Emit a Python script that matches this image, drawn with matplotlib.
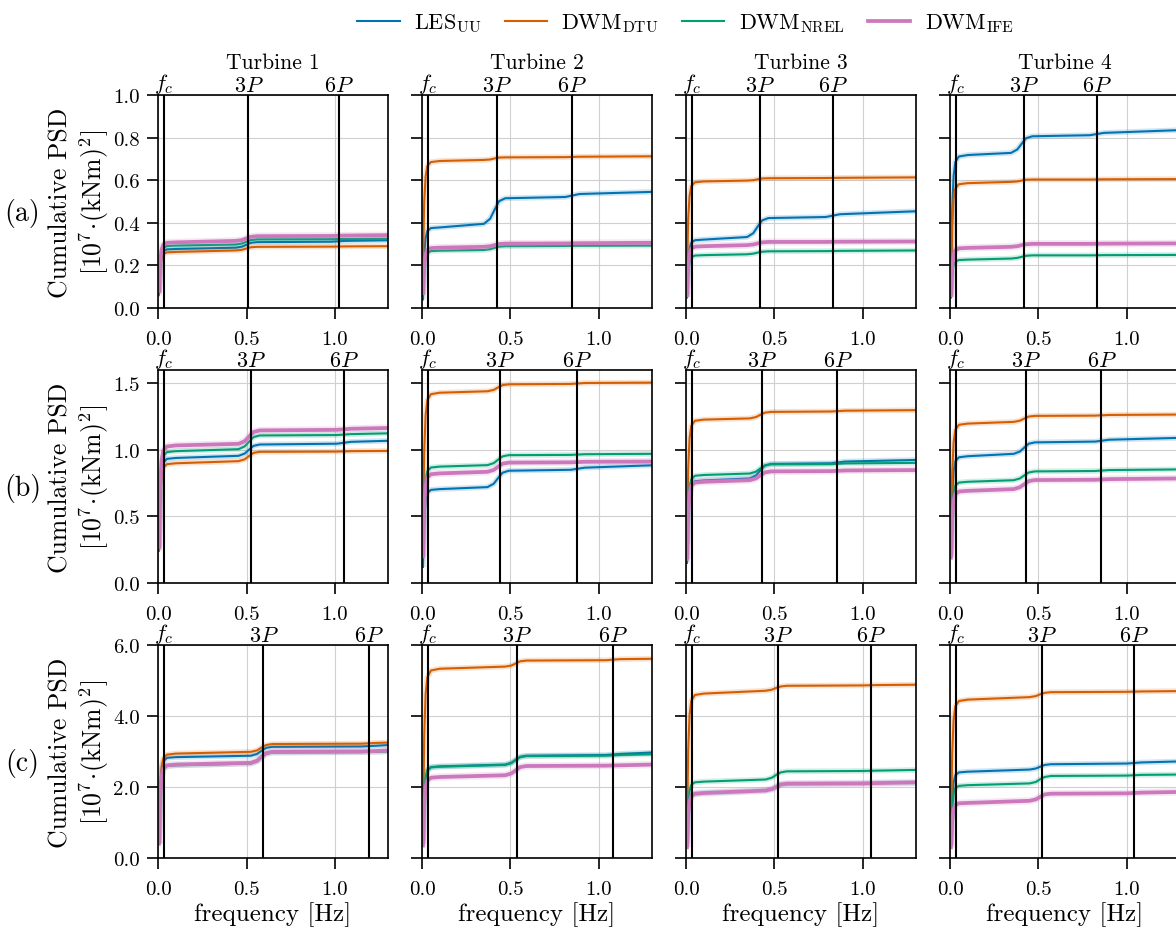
import numpy as np
import matplotlib.pyplot as plt
from matplotlib.ticker import FormatStrFormatter
from matplotlib.lines import Line2D

plt.rcParams['font.family'] = 'serif'
plt.rcParams['font.serif'] = ['cmr10']
plt.rcParams['mathtext.fontset'] = 'cm'
plt.rcParams['axes.formatter.use_mathtext'] = True

turbines = ['Turbine 1', 'Turbine 2', 'Turbine 3', 'Turbine 4']
row_tags = ['(a)', '(b)', '(c)']
names = [r'LES$_{\mathrm{UU}}$', r'DWM$_{\mathrm{DTU}}$', r'DWM$_{\mathrm{NREL}}$', r'DWM$_{\mathrm{IFE}}$']
colors = ['#0173b2', '#d55e00', '#029e73', '#cc78bc']
widths = [1.5, 1.5, 1.5, 2.7]

# marker frequencies [Hz]
fc = 0.035
p3_a = [0.511, 0.424, 0.416, 0.416]
p6_a = [1.022, 0.848, 0.832, 0.832]
p3_b = [0.526, 0.439, 0.428, 0.428]
p6_b = [1.052, 0.878, 0.856, 0.856]
p3_c = [0.596, 0.539, 0.522, 0.519]
p6_c = [1.192, 1.078, 1.044, 1.038]

# ---- row (a) ----
freq_a = [
    [0.005, 0.012, 0.02, 0.03, 0.05, 0.10, 0.44, 0.475, 0.50, 0.525, 0.56, 0.98, 1.06, 1.30],
    [0.005, 0.012, 0.02, 0.03, 0.05, 0.10, 0.35, 0.385, 0.41, 0.435, 0.47, 0.81, 0.89, 1.30],
    [0.005, 0.012, 0.02, 0.03, 0.05, 0.10, 0.345, 0.38, 0.405, 0.43, 0.465, 0.79, 0.87, 1.30],
    [0.005, 0.012, 0.02, 0.03, 0.05, 0.10, 0.345, 0.38, 0.405, 0.43, 0.465, 0.79, 0.87, 1.30],
]
les_a = [
    [0.07, 0.194, 0.246, 0.267, 0.275, 0.277, 0.283, 0.288, 0.297, 0.306, 0.309, 0.311, 0.315, 0.318],
    [0.04, 0.243, 0.327, 0.361, 0.375, 0.378, 0.395, 0.419, 0.461, 0.501, 0.515, 0.521, 0.535, 0.545],
    [0.05, 0.213, 0.280, 0.307, 0.318, 0.321, 0.333, 0.351, 0.382, 0.411, 0.422, 0.427, 0.440, 0.454],
    [0.05, 0.451, 0.618, 0.685, 0.711, 0.718, 0.728, 0.744, 0.771, 0.797, 0.806, 0.811, 0.822, 0.835],
]
dtu_a = [
    [0.06, 0.182, 0.233, 0.253, 0.261, 0.263, 0.270, 0.273, 0.279, 0.285, 0.287, 0.288, 0.289, 0.290],
    [0.20, 0.494, 0.617, 0.666, 0.685, 0.690, 0.695, 0.697, 0.702, 0.706, 0.707, 0.708, 0.710, 0.712],
    [0.15, 0.416, 0.527, 0.572, 0.590, 0.594, 0.598, 0.600, 0.604, 0.608, 0.609, 0.610, 0.611, 0.613],
    [0.08, 0.384, 0.510, 0.561, 0.581, 0.586, 0.592, 0.594, 0.598, 0.602, 0.603, 0.603, 0.604, 0.605],
]
nrel_a = [
    [0.07, 0.204, 0.260, 0.282, 0.291, 0.293, 0.298, 0.303, 0.311, 0.319, 0.322, 0.323, 0.324, 0.325],
    [0.06, 0.185, 0.238, 0.259, 0.267, 0.269, 0.272, 0.276, 0.282, 0.288, 0.290, 0.291, 0.292, 0.293],
    [0.05, 0.169, 0.218, 0.238, 0.246, 0.248, 0.252, 0.255, 0.260, 0.264, 0.266, 0.267, 0.268, 0.270],
    [0.05, 0.156, 0.200, 0.218, 0.225, 0.227, 0.232, 0.235, 0.240, 0.245, 0.247, 0.247, 0.248, 0.249],
]
ife_a = [
    [0.08, 0.217, 0.274, 0.297, 0.306, 0.308, 0.315, 0.319, 0.327, 0.334, 0.337, 0.338, 0.340, 0.342],
    [0.07, 0.198, 0.251, 0.272, 0.281, 0.283, 0.287, 0.290, 0.295, 0.300, 0.302, 0.303, 0.304, 0.306],
    [0.06, 0.198, 0.256, 0.279, 0.288, 0.290, 0.295, 0.298, 0.303, 0.308, 0.310, 0.310, 0.311, 0.312],
    [0.06, 0.193, 0.249, 0.271, 0.280, 0.282, 0.287, 0.290, 0.295, 0.299, 0.301, 0.301, 0.302, 0.303],
]

# ---- row (b) ----
freq_b = [
    [0.005, 0.012, 0.02, 0.03, 0.05, 0.10, 0.455, 0.49, 0.515, 0.54, 0.575, 1.01, 1.09, 1.30],
    [0.005, 0.012, 0.02, 0.03, 0.05, 0.10, 0.37, 0.405, 0.43, 0.455, 0.49, 0.84, 0.92, 1.30],
    [0.005, 0.012, 0.02, 0.03, 0.05, 0.10, 0.36, 0.395, 0.42, 0.445, 0.48, 0.82, 0.90, 1.30],
    [0.005, 0.012, 0.02, 0.03, 0.05, 0.10, 0.36, 0.395, 0.42, 0.445, 0.48, 0.82, 0.90, 1.30],
]
les_b = [
    [0.25, 0.663, 0.836, 0.905, 0.932, 0.939, 0.955, 0.972, 1.002, 1.030, 1.040, 1.046, 1.060, 1.068],
    [0.12, 0.471, 0.617, 0.676, 0.699, 0.705, 0.720, 0.745, 0.788, 0.828, 0.843, 0.850, 0.866, 0.884],
    [0.15, 0.522, 0.677, 0.739, 0.764, 0.770, 0.785, 0.807, 0.845, 0.881, 0.894, 0.899, 0.912, 0.924],
    [0.20, 0.651, 0.839, 0.914, 0.944, 0.952, 0.970, 0.987, 1.017, 1.046, 1.056, 1.062, 1.076, 1.090],
]
dtu_b = [
    [0.24, 0.635, 0.800, 0.866, 0.892, 0.899, 0.915, 0.929, 0.954, 0.977, 0.985, 0.987, 0.990, 0.992],
    [0.30, 0.977, 1.260, 1.373, 1.418, 1.429, 1.440, 1.450, 1.469, 1.486, 1.492, 1.495, 1.502, 1.505],
    [0.30, 0.856, 1.088, 1.181, 1.218, 1.227, 1.236, 1.246, 1.263, 1.279, 1.285, 1.288, 1.294, 1.298],
    [0.25, 0.818, 1.055, 1.150, 1.188, 1.197, 1.210, 1.219, 1.235, 1.250, 1.255, 1.257, 1.262, 1.265],
]
nrel_b = [
    [0.26, 0.698, 0.881, 0.954, 0.983, 0.990, 1.005, 1.026, 1.062, 1.096, 1.108, 1.111, 1.118, 1.124],
    [0.20, 0.604, 0.773, 0.840, 0.867, 0.874, 0.885, 0.900, 0.926, 0.951, 0.960, 0.962, 0.967, 0.970],
    [0.18, 0.559, 0.716, 0.779, 0.805, 0.811, 0.822, 0.836, 0.860, 0.883, 0.891, 0.893, 0.898, 0.902],
    [0.20, 0.536, 0.676, 0.732, 0.754, 0.760, 0.772, 0.785, 0.808, 0.830, 0.838, 0.841, 0.848, 0.853],
]
ife_b = [
    [0.27, 0.728, 0.919, 0.995, 1.025, 1.033, 1.045, 1.065, 1.101, 1.134, 1.146, 1.150, 1.158, 1.164],
    [0.20, 0.574, 0.730, 0.792, 0.817, 0.823, 0.835, 0.849, 0.873, 0.896, 0.904, 0.906, 0.910, 0.912],
    [0.18, 0.528, 0.673, 0.731, 0.754, 0.760, 0.772, 0.785, 0.808, 0.830, 0.838, 0.840, 0.845, 0.848],
    [0.19, 0.491, 0.617, 0.667, 0.687, 0.692, 0.705, 0.719, 0.742, 0.765, 0.773, 0.775, 0.780, 0.785],
]

# ---- row (c) ----
freq_c = [
    [0.005, 0.012, 0.02, 0.03, 0.05, 0.10, 0.525, 0.56, 0.585, 0.61, 0.645, 1.15, 1.23, 1.30],
    [0.005, 0.012, 0.02, 0.03, 0.05, 0.10, 0.47, 0.505, 0.53, 0.555, 0.59, 1.04, 1.12, 1.30],
    [0.005, 0.012, 0.02, 0.03, 0.05, 0.10, 0.45, 0.485, 0.51, 0.535, 0.57, 1.00, 1.08, 1.30],
    [0.005, 0.012, 0.02, 0.03, 0.05, 0.10, 0.45, 0.485, 0.51, 0.535, 0.57, 1.00, 1.08, 1.30],
]
les_c = [
    [0.40, 1.86, 2.47, 2.72, 2.82, 2.84, 2.88, 2.93, 3.02, 3.10, 3.13, 3.14, 3.16, 3.18],
    [0.40, 1.71, 2.25, 2.47, 2.56, 2.58, 2.63, 2.68, 2.77, 2.85, 2.88, 2.90, 2.93, 2.97],
    [0.30, 1.22, 1.60, 1.75, 1.81, 1.83, 1.90, 1.94, 2.00, 2.07, 2.09, 2.10, 2.11, 2.12],
    [0.35, 1.60, 2.12, 2.33, 2.41, 2.43, 2.49, 2.52, 2.57, 2.62, 2.64, 2.66, 2.69, 2.72],
]
dtu_c = [
    [0.40, 1.92, 2.56, 2.81, 2.91, 2.94, 2.99, 3.03, 3.11, 3.18, 3.21, 3.22, 3.24, 3.25],
    [0.50, 3.40, 4.61, 5.09, 5.28, 5.33, 5.39, 5.42, 5.48, 5.54, 5.56, 5.57, 5.60, 5.61],
    [0.60, 3.02, 4.03, 4.43, 4.59, 4.63, 4.71, 4.74, 4.79, 4.83, 4.85, 4.86, 4.87, 4.88],
    [0.60, 2.92, 3.88, 4.27, 4.42, 4.46, 4.53, 4.56, 4.61, 4.65, 4.67, 4.68, 4.69, 4.70],
]
nrel_c = [
    [0.40, 1.73, 2.28, 2.50, 2.59, 2.61, 2.66, 2.72, 2.83, 2.93, 2.97, 2.98, 2.99, 3.00],
    [0.40, 1.70, 2.24, 2.46, 2.55, 2.57, 2.62, 2.67, 2.76, 2.84, 2.87, 2.88, 2.90, 2.92],
    [0.40, 1.45, 1.89, 2.06, 2.13, 2.15, 2.21, 2.26, 2.34, 2.41, 2.44, 2.45, 2.46, 2.48],
    [0.35, 1.37, 1.80, 1.97, 2.03, 2.05, 2.10, 2.14, 2.22, 2.28, 2.31, 2.32, 2.34, 2.35],
]
ife_c = [
    [0.40, 1.74, 2.30, 2.52, 2.61, 2.63, 2.68, 2.74, 2.85, 2.95, 2.99, 3.00, 3.01, 3.03],
    [0.35, 1.51, 1.99, 2.18, 2.26, 2.28, 2.33, 2.38, 2.47, 2.56, 2.59, 2.60, 2.61, 2.63],
    [0.30, 1.22, 1.60, 1.75, 1.81, 1.83, 1.90, 1.94, 2.00, 2.07, 2.09, 2.10, 2.11, 2.13],
    [0.30, 1.05, 1.36, 1.49, 1.54, 1.55, 1.61, 1.65, 1.72, 1.79, 1.81, 1.82, 1.84, 1.86],
]

rows = [
    (freq_a, [les_a, dtu_a, nrel_a, ife_a], p3_a, p6_a, 1.0, np.arange(0, 1.01, 0.2)),
    (freq_b, [les_b, dtu_b, nrel_b, ife_b], p3_b, p6_b, 1.6, [0, 0.5, 1.0, 1.5]),
    (freq_c, [les_c, dtu_c, nrel_c, ife_c], p3_c, p6_c, 6.0, [0, 2, 4, 6]),
]

fig, axes = plt.subplots(3, 4, figsize=(11.76, 9.28), dpi=100)
fig.subplots_adjust(left=0.1344, right=1.0034, bottom=0.0744, top=0.8966,
                    wspace=0.148, hspace=0.291)

for r, (freqs, sers, p3, p6, ymax, yt) in enumerate(rows):
    for c in range(4):
        ax = axes[r, c]
        for k in range(4):
            ax.plot(freqs[c], sers[k][c], color=colors[k], lw=widths[k] + 2.5, alpha=0.18,
                    solid_capstyle='butt', zorder=2)
            ax.plot(freqs[c], sers[k][c], color=colors[k], lw=widths[k], zorder=2)
        for x, lab in zip([fc, p3[c], p6[c]], [r'$f_c$', r'$3P$', r'$6P$']):
            ax.axvline(x, color='k', lw=1.5, zorder=3)
            ax.text(x, 1.0, lab, transform=ax.get_xaxis_transform(), ha='center',
                    va='bottom', fontsize=16)
        ax.set_xlim(0, 1.3)
        ax.set_ylim(0, ymax)
        ax.set_xticks([0, 0.5, 1.0])
        ax.set_yticks(yt)
        ax.xaxis.set_major_formatter(FormatStrFormatter('%.1f'))
        ax.yaxis.set_major_formatter(FormatStrFormatter('%.1f'))
        ax.grid(True, color='#d0d0d0', lw=0.8)
        ax.set_axisbelow(True)
        ax.tick_params(labelsize=15, length=8, width=1.2, direction='out')
        ax.tick_params(axis='x', pad=8)
        ax.tick_params(axis='y', pad=5)
        for s in ax.spines.values():
            s.set_linewidth(1.2)
        if c > 0:
            ax.tick_params(labelleft=False)
        else:
            ax.set_ylabel('Cumulative PSD\n' + r'[$10^7\!\cdot\!$(kNm)$^2$]', fontsize=18.5)
            ax.yaxis.set_label_coords(-0.205, 0.5)
        if r == 0:
            ax.text(0.5, 1.155, turbines[c], transform=ax.transAxes, ha='center',
                    va='center', fontsize=15.5)
        if r == 2:
            ax.set_xlabel('frequency [Hz]', fontsize=18, labelpad=2)
    pos = axes[r, 0].get_position()
    fig.text(0.019, pos.y0 + pos.height / 2 - 0.012, row_tags[r], ha='center', va='center',
             fontsize=20)

handles = [Line2D([], [], color=colors[k], lw=widths[k]) for k in range(4)]
fig.legend(handles, names, loc='upper center', bbox_to_anchor=(0.583, 1.008), ncol=4,
           frameon=False, fontsize=16, handlelength=1.9, handletextpad=0.65,
           columnspacing=1.05)

fig.savefig('out.png', dpi=100)
